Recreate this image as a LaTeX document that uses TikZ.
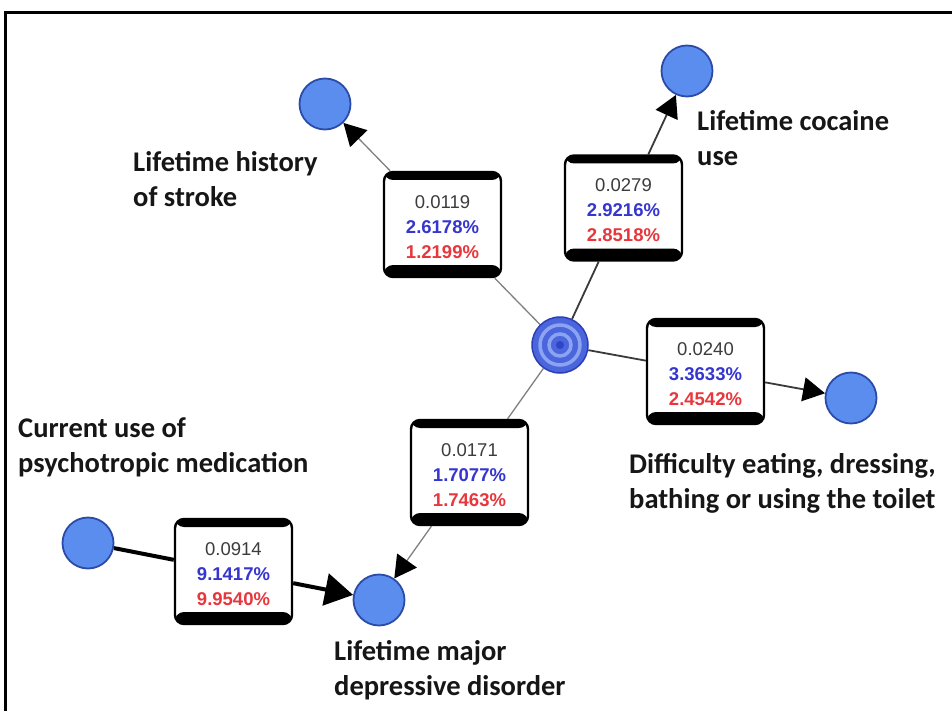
\documentclass[tikz,border=0pt]{standalone}
\usepackage{fontspec}
\setmainfont{Liberation Sans}
\newfontfamily\lblfont{Carlito}
\usetikzlibrary{arrows.meta,calc,backgrounds}
\definecolor{nodeblue}{HTML}{5B8DEF}
\definecolor{nodeborder}{HTML}{2B4BA8}
\definecolor{ringdark}{HTML}{4B66DC}
\definecolor{ringlight}{HTML}{8CA3F2}
\definecolor{ringcore}{HTML}{2E45C8}
\definecolor{ringborder}{HTML}{2C3FB5}
\definecolor{valgray}{HTML}{3C3C3C}
\definecolor{valblue}{HTML}{3535D0}
\definecolor{valred}{HTML}{E8373C}
\definecolor{labelblack}{HTML}{161616}
\definecolor{edgegray}{HTML}{808080}
\definecolor{edgedark}{HTML}{3A3A3A}
\newcommand{\statlines}[3]{\rule{0pt}{18pt}\textcolor{valgray}{#1}\\\textcolor{valblue}{\bfseries #2}\\\textcolor{valred}{\bfseries #3}}
\begin{document}
\begin{tikzpicture}[x=1pt,y=-1pt,
  vnode/.style={circle,fill=nodeblue,draw=nodeborder,line width=1.8pt,minimum size=51pt,inner sep=0pt},
  statbox/.style={draw=black,line width=2.4pt,fill=white,rounded corners=9pt,
    minimum width=117pt,minimum height=105pt,inner sep=0pt,align=center,
    font=\fontsize{18.5}{25}\selectfont,
    path picture={
      \fill[black] (path picture bounding box.north west) rectangle ([yshift=-8pt]path picture bounding box.north east);
      \fill[black] (path picture bounding box.south west) rectangle ([yshift=12pt]path picture bounding box.south east);}},
  lbl/.style={anchor=base west,align=left,inner sep=0pt,
    font=\lblfont\bfseries\fontsize{28.5}{35}\selectfont,text=labelblack},
  thinedge/.style={draw=edgegray,line width=1.3pt},
  midedge/.style={draw=edgedark,line width=1.8pt},
  thickedge/.style={draw=black,line width=4pt},
  tip/.style={-{Triangle[length=22pt,width=24pt,color=black]}},
  bigtip/.style={-{Triangle[length=28pt,width=32pt,color=black]}}
]
\useasboundingbox (0,0) rectangle (952,711);
\draw[line width=3pt] (5.5,711) -- (5.5,13) -- (952,13);

% variable nodes
\node[vnode] (stroke) at (325,104) {};
\node[vnode] (cocaine) at (687,71) {};
\node[vnode] (difficulty) at (851,398) {};
\node[vnode] (psycho) at (88,543) {};
\node[vnode] (major) at (379,600) {};
\node[circle,minimum size=56pt,inner sep=0pt,fill=ringdark,draw=ringborder,line width=1.5pt,
  path picture={
    \draw[ringlight,line width=3.5pt] (path picture bounding box.center) circle[radius=20pt];
    \draw[ringlight,line width=3.5pt] (path picture bounding box.center) circle[radius=11pt];
    \fill[ringcore] (path picture bounding box.center) circle[radius=4pt];}] (hub) at (560,345) {};

% statistic boxes
\node[statbox] (b1) at ($(hub)!0.5!(stroke)$) {\statlines{0.0119}{2.6178\%}{1.2199\%}};
\node[statbox] (b2) at ($(hub)!0.5!(cocaine)$) {\statlines{0.0279}{2.9216\%}{2.8518\%}};
\node[statbox] (b3) at ($(hub)!0.5!(difficulty)$) {\statlines{0.0240}{3.3633\%}{2.4542\%}};
\node[statbox] (b4) at ($(hub)!0.5!(major)$) {\statlines{0.0171}{1.7077\%}{1.7463\%}};
\node[statbox] (b5) at ($(psycho)!0.5!(major)$) {\statlines{0.0914}{9.1417\%}{9.9540\%}};

% connectors
\begin{scope}[on background layer]
\draw[thinedge] (hub) -- (b1);
\draw[thinedge,tip] (b1) -- (stroke);
\draw[midedge] (hub) -- (b2);
\draw[midedge,tip] (b2) -- (cocaine);
\draw[midedge] (hub) -- (b3);
\draw[midedge,tip] (b3) -- (difficulty);
\draw[thinedge] (hub) -- (b4);
\draw[thinedge,tip] (b4) -- (major);
\draw[thickedge] (psycho) -- (b5);
\draw[thickedge,bigtip] (b5) -- (major);
\end{scope}

% labels (base anchor = baseline of the last line)
\node[lbl] (lstroke) at (133,207) {Lifetime history\\of stroke};
\node[lbl] (lcocaine) at (697,166) {Lifetime cocaine\\use};
\node[lbl] (ldifficulty) at (629,508) {Difficulty eating, dressing,\\bathing or using the toilet};
\node[lbl] (lpsycho) at (18,472) {Current use of\\psychotropic medication};
\node[lbl] (lmajor) at (334,695) {Lifetime major\\depressive disorder};
\end{tikzpicture}
\end{document}
